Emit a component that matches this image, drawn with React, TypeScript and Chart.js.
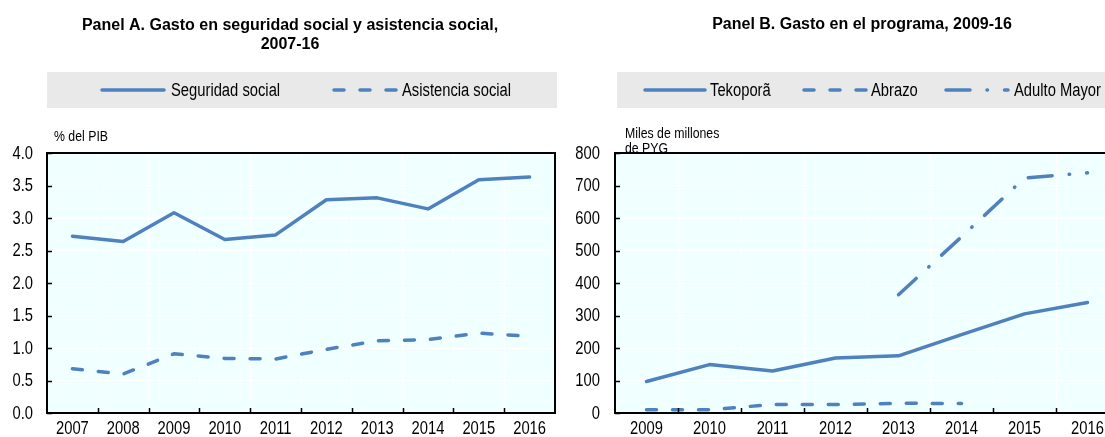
import React, { useEffect, useRef } from 'react';
import { Chart, registerables } from 'chart.js';

Chart.register(...registerables);

// ---------- Data ----------
const yearsA = ['2007', '2008', '2009', '2010', '2011', '2012', '2013', '2014', '2015', '2016'];
const seguridadSocial = [2.72, 2.64, 3.08, 2.67, 2.74, 3.28, 3.31, 3.14, 3.59, 3.63];
const asistenciaSocial = [0.68, 0.6, 0.91, 0.84, 0.83, 0.98, 1.11, 1.13, 1.23, 1.18];

const yearsB = ['2009', '2010', '2011', '2012', '2013', '2014', '2015', '2016'];
const tekopora = [97, 149, 129, 169, 176, 241, 305, 340];
const abrazo = [10, 10, 26, 26, 30, 29, null, null];
const adultoMayor = [null, null, null, null, 364, 542, 723, 739];

const titleA = ['Panel A. Gasto en seguridad social y asistencia social,', '2007-16'];
const titleB = ['Panel B. Gasto en el programa, 2009-16'];
const unitA = ['% del PIB'];
const unitB = ['Miles de millones', 'de PYG'];

// ---------- Styles ----------
const BLUE = '#4F81BD';
const FONT = "'Liberation Sans', Arial, sans-serif";
const NARROW = 0.82; // emulate Arial Narrow by horizontal compression
const DASH = [10, 16];
const DASHDOT = [24, 17, 0.5, 17];
const LW = 3.5;

function narrowText(ctx: CanvasRenderingContext2D, text: string, x: number, y: number) {
  const w = ctx.measureText(text).width;
  ctx.fillText(text, x, y, w * NARROW);
}

type LegendItem = { label: string; dash: number[]; x1: number; x2: number; tx: number };
type PanelCfg = {
  title: string[];
  titleX: number;
  titleY: number[];
  legendBox: [number, number, number, number];
  legend: LegendItem[];
  unit: string[];
  unitX: number;
  unitY: number[];
  rightBorder: boolean;
  decimals: number;
  yLabelGap: number;
};

function makePlugin(cfg: PanelCfg) {
  return {
    id: 'panelDecor',
    beforeDraw(chart: any) {
      const { ctx, chartArea: a } = chart;
      ctx.save();
      ctx.fillStyle = '#F0FFFF';
      ctx.fillRect(a.left, a.top, a.right - a.left, a.bottom - a.top);
      ctx.restore();
    },
    afterDraw(chart: any) {
      const { ctx, chartArea: a } = chart;
      const xs = chart.scales.x;
      const ys = chart.scales.y;
      ctx.save();
      // frame
      ctx.strokeStyle = '#000';
      ctx.lineWidth = 2;
      ctx.beginPath();
      ctx.moveTo(a.left - 1, a.top);
      ctx.lineTo(a.right + 1, a.top);
      if (cfg.rightBorder) {
        ctx.moveTo(a.right, a.top);
        ctx.lineTo(a.right, a.bottom);
      }
      ctx.stroke();
      // inward ticks
      ctx.lineWidth = 1.5;
      ctx.beginPath();
      for (let i = 0; i < ys.ticks.length; i++) {
        const py = Math.round(ys.getPixelForTick(i)) + 0.5;
        ctx.moveTo(a.left, py);
        ctx.lineTo(a.left + 5, py);
      }
      const labels: string[] = xs.getLabels();
      const n = labels.length;
      for (let i = 1; i < n; i++) {
        const px = Math.round((xs.getPixelForValue(i - 1) + xs.getPixelForValue(i)) / 2) + 0.5;
        ctx.moveTo(px, a.bottom);
        ctx.lineTo(px, a.bottom - 5);
      }
      ctx.stroke();

      // tick labels (from the scales)
      ctx.fillStyle = '#000';
      ctx.font = `18px ${FONT}`;
      ctx.textBaseline = 'middle';
      ctx.textAlign = 'right';
      for (let i = 0; i < ys.ticks.length; i++) {
        const t = ys.ticks[i];
        narrowText(ctx, Number(t.value).toFixed(cfg.decimals), a.left - cfg.yLabelGap, ys.getPixelForTick(i) + 1);
      }
      ctx.textAlign = 'center';
      for (let i = 0; i < n; i++) {
        narrowText(ctx, labels[i], xs.getPixelForValue(i), a.bottom + 16);
      }

      // title
      ctx.textAlign = 'center';
      ctx.font = `bold 16px ${FONT}`;
      cfg.title.forEach((t, i) => ctx.fillText(t, cfg.titleX, cfg.titleY[i]));

      // legend box
      const [bx, by, bw, bh] = cfg.legendBox;
      ctx.fillStyle = '#E9E9E9';
      ctx.fillRect(bx, by, bw, bh);
      const ly = by + bh / 2;
      cfg.legend.forEach((it) => {
        ctx.strokeStyle = BLUE;
        ctx.lineWidth = LW;
        ctx.lineCap = 'round';
        ctx.setLineDash(it.dash);
        ctx.beginPath();
        ctx.moveTo(it.x1, ly);
        ctx.lineTo(it.x2, ly);
        ctx.stroke();
        ctx.setLineDash([]);
        ctx.fillStyle = '#000';
        ctx.textAlign = 'left';
        ctx.font = `18px ${FONT}`;
        narrowText(ctx, it.label, it.tx, ly + 1);
      });

      // unit label
      ctx.font = `15px ${FONT}`;
      ctx.textAlign = 'left';
      ctx.fillStyle = '#000';
      cfg.unit.forEach((t, i) => narrowText(ctx, t, cfg.unitX, cfg.unitY[i]));
      ctx.restore();
    },
  };
}

function makeChart(
  canvas: HTMLCanvasElement,
  labels: string[],
  datasets: any[],
  ymax: number,
  step: number,
  yWidth: number,
  rightPad: number,
  cfg: PanelCfg
) {
  return new Chart(canvas, {
    type: 'line',
    data: { labels, datasets },
    options: {
      responsive: false,
      animation: false,
      devicePixelRatio: 1,
      events: [],
      layout: { padding: { top: 153, right: rightPad, left: 0, bottom: 0 } },
      plugins: {
        legend: { display: false },
        title: { display: false },
        tooltip: { enabled: false },
      },
      elements: {
        point: { radius: 0 },
        line: { tension: 0, borderWidth: LW, borderCapStyle: 'round', borderJoinStyle: 'round' },
      },
      scales: {
        x: {
          type: 'category',
          offset: true,
          grid: { offset: true, color: '#FFFFFF', lineWidth: 1, drawTicks: false },
          border: { display: true, color: '#000', width: 2 },
          ticks: { display: false, autoSkip: false },
          afterFit: (s: any) => {
            s.height = 24;
          },
        },
        y: {
          type: 'linear',
          min: 0,
          max: ymax,
          grid: { color: '#FFFFFF', lineWidth: 1, drawTicks: false },
          border: { display: true, color: '#000', width: 2 },
          ticks: { display: false, stepSize: step },
          afterFit: (s: any) => {
            s.width = yWidth;
          },
        },
      },
    } as any,
    plugins: [makePlugin(cfg)],
  });
}

export default function App() {
  const refA = useRef<HTMLCanvasElement>(null);
  const refB = useRef<HTMLCanvasElement>(null);

  useEffect(() => {
    const offB = 560;
    const chartA = makeChart(
      refA.current!,
      yearsA,
      [
        { label: 'Seguridad social', data: seguridadSocial, borderColor: BLUE, backgroundColor: BLUE },
        { label: 'Asistencia social', data: asistenciaSocial, borderColor: BLUE, backgroundColor: BLUE, borderDash: DASH },
      ],
      4,
      0.5,
      47,
      5,
      {
        title: titleA,
        titleX: 290,
        titleY: [26, 45],
        legendBox: [47, 72, 510, 36],
        legend: [
          { label: 'Seguridad social', dash: [], x1: 102, x2: 164, tx: 171 },
          { label: 'Asistencia social', dash: DASH, x1: 334, x2: 396, tx: 402 },
        ],
        unit: unitA,
        unitX: 54,
        unitY: [137],
        rightBorder: true,
        decimals: 1,
        yLabelGap: 14,
      }
    );
    const chartB = makeChart(
      refB.current!,
      yearsB,
      [
        { label: 'Tekoporã', data: tekopora, borderColor: BLUE, backgroundColor: BLUE },
        { label: 'Abrazo', data: abrazo, borderColor: BLUE, backgroundColor: BLUE, borderDash: DASH, spanGaps: false },
        { label: 'Adulto Mayor', data: adultoMayor, borderColor: BLUE, backgroundColor: BLUE, borderDash: DASHDOT, spanGaps: false },
      ],
      800,
      100,
      55,
      6,
      {
        title: titleB,
        titleX: 862 - offB,
        titleY: [25],
        legendBox: [617 - offB, 72, 600, 36],
        legend: [
          { label: 'Tekoporã', dash: [], x1: 645 - offB, x2: 705 - offB, tx: 710 - offB },
          { label: 'Abrazo', dash: DASH, x1: 804 - offB, x2: 866 - offB, tx: 871 - offB },
          { label: 'Adulto Mayor', dash: DASHDOT, x1: 946 - offB, x2: 1008 - offB, tx: 1014 - offB },
        ],
        unit: unitB,
        unitX: 625 - offB,
        unitY: [134, 149],
        rightBorder: true,
        decimals: 0,
        yLabelGap: 15,
      }
    );
    return () => {
      chartA.destroy();
      chartB.destroy();
    };
  }, []);

  return (
    <div
      style={{
        position: 'absolute',
        left: 0,
        top: 0,
        width: 1105,
        height: 437,
        overflow: 'hidden',
        background: '#FFFFFF',
      }}
    >
      <canvas ref={refA} width={560} height={437} style={{ position: 'absolute', left: 0, top: 0, width: 560, height: 437 }} />
      <canvas ref={refB} width={565} height={437} style={{ position: 'absolute', left: 560, top: 0, width: 565, height: 437 }} />
    </div>
  );
}
